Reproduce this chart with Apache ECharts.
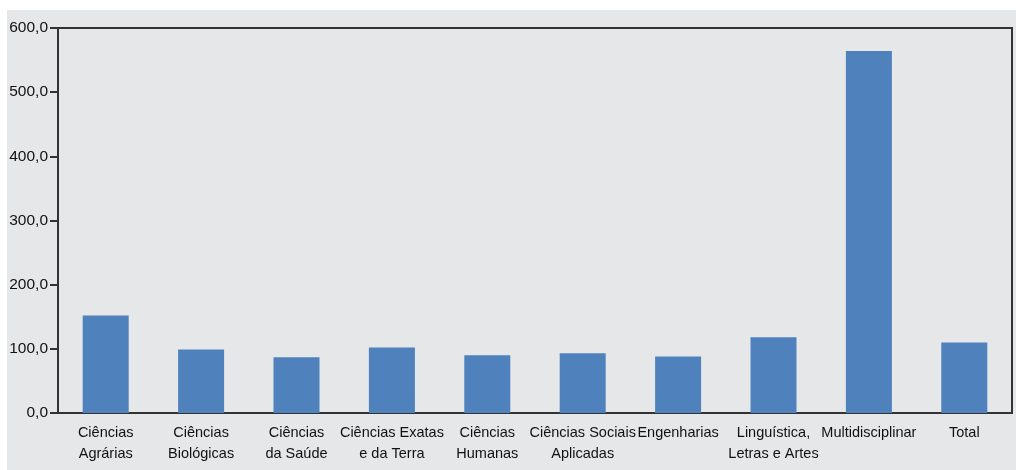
<!DOCTYPE html>
<html>
<head>
<meta charset="utf-8">
<script src="https://cdn.jsdelivr.net/npm/echarts@6/dist/echarts.min.js"></script>
<style>
  html, body { margin: 0; padding: 0; background: #fff; }
  #chart { position: absolute; left: 7px; top: 10px; width: 1009px; height: 460px; }
</style>
</head>
<body>
<div id="chart"></div>
<script>
// categorias e valores
const categories = [
  'Ciências\nAgrárias',
  'Ciências\nBiológicas',
  'Ciências\nda Saúde',
  'Ciências Exatas\ne da Terra',
  'Ciências\nHumanas',
  'Ciências Sociais\nAplicadas',
  'Engenharias',
  'Linguística,\nLetras e Artes',
  'Multidisciplinar',
  'Total'
]
const values = [152, 99, 87, 102, 90, 93, 88, 118, 564, 110]
const yTicks = [0, 100, 200, 300, 400, 500, 600]

const chart = echarts.init(document.getElementById('chart'))

const option = {
  backgroundColor: '#e6e7e8',
  animation: false,
  textStyle: { fontFamily: '"Liberation Sans", Arial, sans-serif' },
  grid: {
    left: 51,
    right: 4,
    top: 18,
    bottom: 57,
    outerBoundsMode: 'none',
    show: true,
    borderColor: '#333',
    borderWidth: 2,
    backgroundColor: 'transparent'
  },
  xAxis: {
    type: 'category',
    data: categories,
    axisLine: { lineStyle: { color: '#333', width: 2 } },
    axisTick: { show: false },
    axisLabel: {
      interval: 0,
      color: '#111',
      fontSize: 14.5,
      lineHeight: 21,
      margin: 9
    }
  },
  yAxis: {
    type: 'value',
    min: yTicks[0],
    max: yTicks[yTicks.length - 1],
    interval: 100,
    splitLine: { show: false },
    axisLine: { show: true, lineStyle: { color: '#333', width: 2 } },
    axisTick: { show: true, length: 8, lineStyle: { color: '#333', width: 2 } },
    axisLabel: {
      color: '#111',
      fontSize: 15.5,
      margin: 10,
      formatter: v => v.toFixed(1).replace('.', ',')
    }
  },
  series: [
    {
      type: 'bar',
      data: values,
      barWidth: 46,
      itemStyle: { color: '#4f81bd' }
    }
  ]
}

chart.setOption(option)
</script>
</body>
</html>
